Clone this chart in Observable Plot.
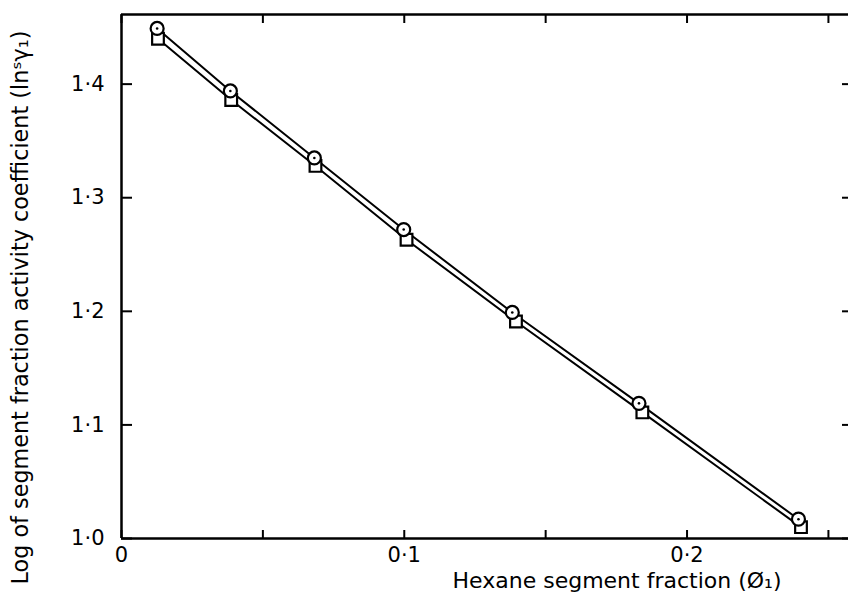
<!DOCTYPE html>
<html>
<head>
<meta charset="utf-8">
<script src="https://cdn.jsdelivr.net/npm/d3@7"></script>
<script src="https://cdn.jsdelivr.net/npm/@observablehq/plot@0.6"></script>
<style>
  html, body { margin: 0; padding: 0; background: #fff; }
  svg { display: block; }
</style>
</head>
<body>
<div id="chart"></div>
<script>
// Series 1 (circles)
const circleX = [0.0126, 0.0385, 0.0682, 0.0998, 0.1382, 0.1830, 0.2394];
const circleY = [1.449, 1.394, 1.335, 1.272, 1.199, 1.119, 1.017];
// Series 2 (squares)
const squareX = [0.0129, 0.0388, 0.0686, 0.1008, 0.1395, 0.1842, 0.2403];
const squareY = [1.440, 1.386, 1.328, 1.263, 1.191, 1.111, 1.010];

// Axes
const xTicks = [0, 0.05, 0.1, 0.15, 0.2, 0.25];
const xTickLabels = ["0", "", "0·1", "", "0·2", ""];
const yTicks = [1.0, 1.1, 1.2, 1.3, 1.4];
const yTickLabels = ["1·0", "1·1", "1·2", "1·3", "1·4"];
const xDomain = [0, 0.2571];
const yDomain = [1.0, 1.4613];
const xLabel = "Hexane segment fraction (Ø₁)";
const yLabel = "Log of segment fraction activity coefficient (lnˢγ₁)";

const circles = circleX.map((x, i) => ({x, y: circleY[i]}));
const squares = squareX.map((x, i) => ({x, y: squareY[i]}));
const xFmt = d => xTickLabels[xTicks.indexOf(d)] ?? "";
const yFmt = d => yTickLabels[yTicks.findIndex(t => Math.abs(t - d) < 1e-9)] ?? "";

const font = "'DejaVu Sans', sans-serif";

const chart = Plot.plot({
  width: 848,
  height: 599,
  marginLeft: 121,
  marginRight: 0,
  marginTop: 14,
  marginBottom: 61,
  style: {fontFamily: font, fontSize: "21px", color: "#000", background: "#fff"},
  x: {domain: xDomain},
  y: {domain: yDomain},
  marks: [
    // frame lines (left, bottom, top)
    Plot.ruleX([xDomain[0]], {stroke: "#000", strokeWidth: 2.5}),
    Plot.ruleY([yDomain[0]], {stroke: "#000", strokeWidth: 2.5}),
    Plot.ruleY([yDomain[1]], {stroke: "#000", strokeWidth: 2.5}),
    // inward ticks
    Plot.axisY({anchor: "left", ticks: yTicks, tickSize: -11, strokeWidth: 2, tickFormat: () => "", label: null}),
    Plot.axisY({anchor: "right", ticks: yTicks, tickSize: -7, strokeWidth: 2, tickFormat: () => "", label: null}),
    Plot.axisX({anchor: "bottom", ticks: xTicks, tickSize: -8, strokeWidth: 2, tickFormat: () => "", label: null}),
    Plot.axisX({anchor: "top", ticks: xTicks, tickSize: -8, strokeWidth: 2, tickFormat: () => "", label: null}),
    // tick labels
    Plot.axisY({anchor: "left", ticks: yTicks, tickSize: 0, tickPadding: 17, tickFormat: yFmt, label: null, fontSize: 21}),
    Plot.axisX({anchor: "bottom", ticks: xTicks, tickSize: 0, tickPadding: 9, tickFormat: xFmt, label: null, fontSize: 21}),
    // axis titles
    Plot.text([yLabel], {frameAnchor: "left", textAnchor: "middle", rotate: -90, dx: -101, dy: 31, fontSize: 22.3}),
    Plot.text([xLabel], {frameAnchor: "bottom", textAnchor: "middle", dx: 132, dy: 49, fontSize: 22}),
    // series lines
    Plot.line(circles, {x: "x", y: "y", stroke: "#000", strokeWidth: 2}),
    Plot.line(squares, {x: "x", y: "y", stroke: "#000", strokeWidth: 2}),
    // markers
    Plot.dot(squares, {x: "x", y: "y", symbol: "square", r: 6.6, stroke: "#000", fill: "#fff", strokeWidth: 2.2}),
    Plot.dot(circles, {x: "x", y: "y", symbol: "circle", r: 6.5, stroke: "#000", fill: "#fff", strokeWidth: 2.2}),
    Plot.dot(circles, {x: "x", y: "y", symbol: "circle", r: 1.3, fill: "#000"})
  ]
});
document.getElementById("chart").appendChild(chart);
</script>
</body>
</html>
